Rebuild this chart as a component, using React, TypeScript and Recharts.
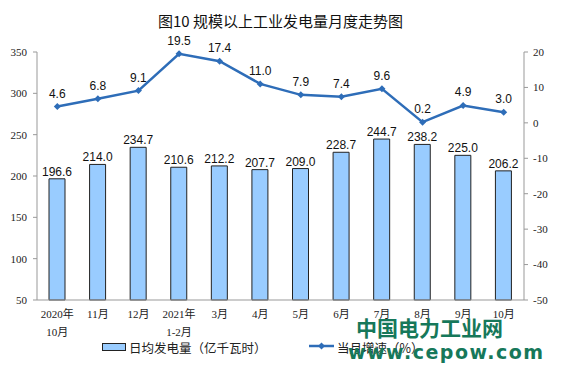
import React from 'react';
import { ComposedChart, Bar, Line, XAxis, YAxis, LabelList } from 'recharts';

// 月份标签（两行的用 \n 分开）
const months = ['2020年\n10月', '11月', '12月', '2021年\n1-2月', '3月', '4月', '5月', '6月', '7月', '8月', '9月', '10月'];
// 日均发电量（亿千瓦时）
const dailyOutput = [196.6, 214.0, 234.7, 210.6, 212.2, 207.7, 209.0, 228.7, 244.7, 238.2, 225.0, 206.2];
// 当月增速（%）
const growth = [4.6, 6.8, 9.1, 19.5, 17.4, 11.0, 7.9, 7.4, 9.6, 0.2, 4.9, 3.0];

const leftTicks = [50, 100, 150, 200, 250, 300, 350];
const rightTicks = [-50, -40, -30, -20, -10, 0, 10, 20];

const data = months.map((m, i) => ({ month: m, output: dailyOutput[i], growth: growth[i] }));

const BAR_FILL = '#99ccff';
const LINE_COLOR = '#2e6db8';
const serif = '"Liberation Serif", "Noto Sans CJK SC", serif';
const sans = '"Liberation Sans", Arial, sans-serif';

const MonthTick = (props: any) => {
  const { x, y, payload } = props;
  const lines = String(payload.value).split('\n');
  return (
    <g>
      {lines.map((l, i) => (
        <text key={i} x={x} y={y + 10 + i * 18} textAnchor="middle" fontSize={11} fill="#222" fontFamily={serif}>
          {l}
        </text>
      ))}
    </g>
  );
};

const Diamond = (props: any) => {
  const { cx, cy } = props;
  if (cx == null || cy == null) return null;
  const r = 3.5;
  return <path d={`M${cx},${cy - r}L${cx + r},${cy}L${cx},${cy + r}L${cx - r},${cy}Z`} fill={LINE_COLOR} />;
};

export default function App() {
  return (
    <div style={{ position: 'absolute', left: 0, top: 0, width: 561, height: 379, background: '#fff' }}>
      <div
        style={{
          position: 'absolute', left: 0, width: 561, top: 10, textAlign: 'center',
          fontFamily: '"Noto Sans CJK SC", sans-serif', fontSize: 15, color: '#111',
        }}
      >
        图10 规模以上工业发电量月度走势图
      </div>
      <ComposedChart width={561} height={379} data={data} margin={{ top: 52, right: 0, bottom: 39, left: 0 }}>
        <XAxis
          dataKey="month"
          interval={0}
          height={40}
          stroke="#999"
          tickLine={false}
          tick={<MonthTick />}
        />
        <YAxis
          yAxisId="left"
          width={37}
          domain={[50, 350]}
          ticks={leftTicks}
          stroke="#999"
          tickSize={4}
          tickMargin={6}
          tick={{ fontSize: 11, fill: '#222', fontFamily: serif }}
        />
        <YAxis
          yAxisId="right"
          orientation="right"
          width={37}
          domain={[-50, 20]}
          ticks={rightTicks}
          stroke="#999"
          tickSize={4}
          tickMargin={5}
          tick={{ fontSize: 11, fill: '#222', fontFamily: serif, textAnchor: 'start' }}
        />
        <Bar yAxisId="left" dataKey="output" fill={BAR_FILL} stroke="#222" strokeWidth={1} barSize={16} isAnimationActive={false}>
          <LabelList dataKey="output" position="top" offset={3} formatter={(v: any) => Number(v).toFixed(1)}
            style={{ fontSize: 12, fill: '#111', fontFamily: sans }} />
        </Bar>
        <Line yAxisId="right" dataKey="growth" stroke={LINE_COLOR} strokeWidth={2.5} dot={<Diamond />} activeDot={false} isAnimationActive={false}>
          <LabelList dataKey="growth" position="top" offset={9} formatter={(v: any) => Number(v).toFixed(1)}
            style={{ fontSize: 12, fill: '#111', fontFamily: sans }} />
        </Line>
      </ComposedChart>

      {/* 图例 */}
      <div style={{ position: 'absolute', left: 102, top: 343, width: 22, height: 6, background: BAR_FILL, border: '1.5px solid #222' }} />
      <div style={{ position: 'absolute', left: 129, top: 338, fontSize: 12.5, color: '#222', fontFamily: '"Noto Sans CJK SC", sans-serif' }}>
        日均发电量（亿千瓦时）
      </div>
      <svg style={{ position: 'absolute', left: 308, top: 340 }} width={28} height={12}>
        <line x1={1} y1={6} x2={26} y2={6} stroke={LINE_COLOR} strokeWidth={2.5} />
        <path d="M13.5,2.5L17,6L13.5,9.5L10,6Z" fill={LINE_COLOR} />
      </svg>
      <div style={{ position: 'absolute', left: 337, top: 338, fontSize: 12.5, color: '#222', fontFamily: '"Noto Sans CJK SC", sans-serif' }}>
        当月增速（%）
      </div>

      {/* 水印 */}
      <div style={{ position: 'absolute', left: 356, top: 312, fontSize: 21, fontWeight: 700, color: '#16785a', fontFamily: '"Noto Sans CJK SC", sans-serif', lineHeight: '30px' }}>
        中国电力工业网
      </div>
      <div style={{ position: 'absolute', left: 348, top: 340, fontSize: 19, fontWeight: 700, letterSpacing: 1.5, color: '#16785a', fontFamily: '"DejaVu Sans", sans-serif', lineHeight: '24px' }}>
        www.cepow.com
      </div>
    </div>
  );
}
